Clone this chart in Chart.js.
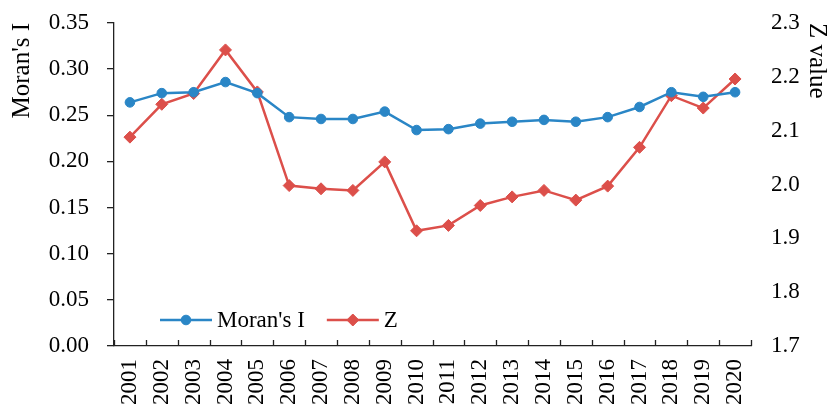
<!DOCTYPE html>
<html>
<head>
<meta charset="utf-8">
<script src="https://cdn.jsdelivr.net/npm/chart.js@4.4.1/dist/chart.umd.min.js"></script>
<style>
  html, body { margin: 0; padding: 0; background: #fff; }
  #wrap { width: 832px; height: 407px; position: relative; }
</style>
</head>
<body>
<div id="wrap"><canvas id="chart"></canvas></div>
<script>
// === Data ===
const YEARS = ["2001","2002","2003","2004","2005","2006","2007","2008","2009","2010",
               "2011","2012","2013","2014","2015","2016","2017","2018","2019","2020"];
const MORAN_I = [0.264,0.274,0.275,0.286,0.274,0.248,0.246,0.246,0.254,0.234,
                 0.235,0.241,0.243,0.245,0.243,0.248,0.259,0.275,0.270,0.275];
const Z_VALUE = [2.088,2.149,2.169,2.250,2.172,1.998,1.992,1.989,2.042,1.914,
                 1.924,1.961,1.977,1.989,1.971,1.997,2.069,2.165,2.142,2.196];

const BLUE = "#2a86c6";
const RED = "#dc4f4a";
const AXIS = "#222222";
const FONT = "'Liberation Serif', 'Times New Roman', serif";

// ticks pointing up at the category boundaries
const innerTicks = {
  id: "innerTicks",
  afterDraw(chart) {
    const x = chart.scales.x, ctx = chart.ctx;
    const n = x.getLabels().length, w = (x.right - x.left) / n;
    ctx.save();
    ctx.strokeStyle = AXIS; ctx.lineWidth = 1.3;
    ctx.beginPath();
    for (let i = 0; i <= n; i++) {
      const px = Math.round(x.left + i * w) + 0.5;
      ctx.moveTo(px, x.top); ctx.lineTo(px, x.top - 6);
    }
    ctx.stroke();
    ctx.restore();
  }
};

// legend inside the plot, bottom left
const insideLegend = {
  id: "insideLegend",
  afterDraw(chart) {
    const ctx = chart.ctx, a = chart.chartArea;
    const y = a.bottom - 26;
    let x = a.left + 46;
    ctx.save();
    ctx.font = "23px " + FONT;
    ctx.textBaseline = "middle";
    chart.data.datasets.forEach((ds) => {
      ctx.strokeStyle = ds.borderColor; ctx.lineWidth = 2.5;
      ctx.beginPath(); ctx.moveTo(x, y); ctx.lineTo(x + 52, y); ctx.stroke();
      ctx.fillStyle = ds.backgroundColor; ctx.lineWidth = 1;
      Chart.helpers.drawPoint(ctx, { pointStyle: ds.pointStyle, radius: ds.pointRadius, borderWidth: 1 }, x + 26, y);
      ctx.fillStyle = "#000";
      ctx.fillText(ds.label, x + 57, y + 1);
      x += 57 + ctx.measureText(ds.label).width + 22;
    });
    ctx.restore();
  }
};

// keep the plot top fixed by the layout padding only
const noVPad = (s) => { s.paddingTop = 0; s.paddingBottom = 0; };

const ctxEl = document.getElementById("chart");
new Chart(ctxEl, {
  type: "line",
  data: {
    labels: YEARS,
    datasets: [
      { label: "Moran's I", data: MORAN_I, yAxisID: "y", borderColor: BLUE, backgroundColor: BLUE,
        borderWidth: 2.5, pointStyle: "circle", pointRadius: 4.8, pointBorderWidth: 1, tension: 0 },
      { label: "Z", data: Z_VALUE, yAxisID: "y2", borderColor: RED, backgroundColor: RED,
        borderWidth: 2.5, pointStyle: "rectRot", pointRadius: 6, pointBorderWidth: 1, tension: 0 }
    ]
  },
  options: {
    responsive: true,
    maintainAspectRatio: false,
    animation: false,
    layout: { padding: { top: 23, left: 0, right: 0, bottom: 0 } },
    plugins: { legend: { display: false }, tooltip: { enabled: false } },
    scales: {
      x: {
        offset: true,
        grid: { display: false, drawTicks: false },
        border: { display: true, color: AXIS, width: 1.3 },
        ticks: { color: "#000", font: { family: FONT, size: 23 }, minRotation: 90, maxRotation: 90,
                 autoSkip: false, padding: 13 },
        afterFit: (s) => { s.height = 61; s.paddingLeft = 0; s.paddingRight = 0; }
      },
      y: {
        position: "left",
        min: 0, max: 0.35,
        grid: { drawOnChartArea: false, tickLength: 7, color: AXIS, lineWidth: 1.3 },
        border: { display: true, color: AXIS, width: 1.3 },
        ticks: { stepSize: 0.05, color: "#000", font: { family: FONT, size: 23 }, padding: 18,
                 callback: (v) => v.toFixed(2) },
        title: { display: true, text: "Moran's I", align: "end", color: "#000",
                 font: { family: FONT, size: 25 }, padding: { top: 7, bottom: 0 } },
        afterFit: (s) => { s.width = 114; noVPad(s); }
      },
      y2: {
        position: "right",
        min: 1.7, max: 2.3,
        grid: { display: false, drawTicks: false },
        border: { display: false },
        ticks: { stepSize: 0.1, color: "#000", font: { family: FONT, size: 23 }, padding: 20,
                 callback: (v) => v.toFixed(1) },
        title: { display: true, text: "Z value", align: "end", color: "#000",
                 font: { family: FONT, size: 25 }, padding: { top: 0, bottom: 0 } },
        afterFit: (s) => { s.width = 81; noVPad(s); }
      }
    }
  },
  plugins: [innerTicks, insideLegend]
});
</script>
</body>
</html>
